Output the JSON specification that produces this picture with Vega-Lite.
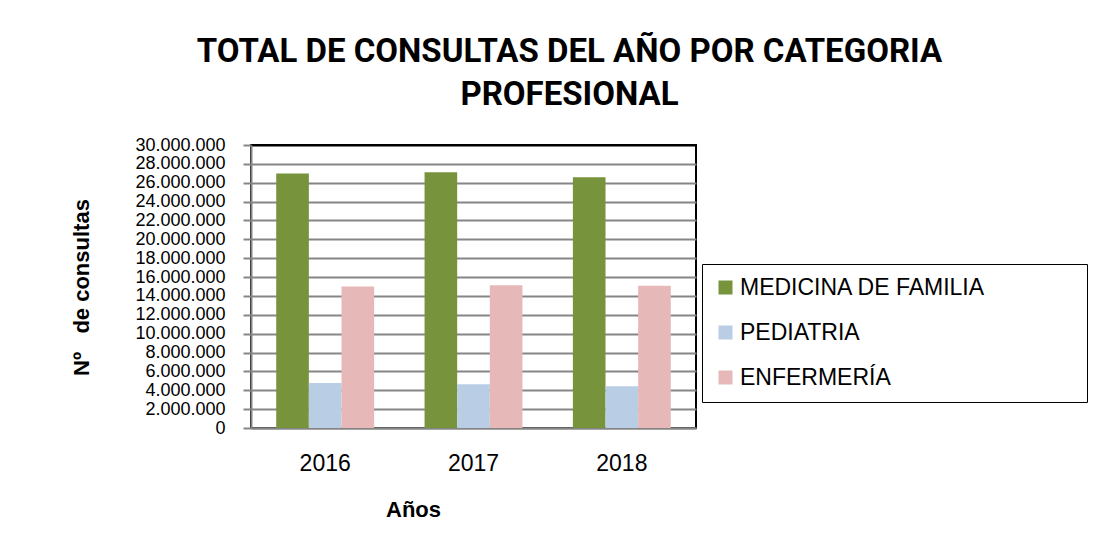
{
  "$schema": "https://vega.github.io/schema/vega-lite/v6.json",
  "width": 445,
  "height": 283,
  "autosize": {"type": "none"},
  "padding": {"left": 251, "top": 145, "right": 401, "bottom": 118},
  "background": "white",
  "title": {
    "text": ["TOTAL DE CONSULTAS DEL AÑO POR CATEGORIA", "PROFESIONAL"],
    "font": "Roboto",
    "fontSize": 33,
    "fontWeight": "bold",
    "lineHeight": 43,
    "color": "black",
    "anchor": "middle",
    "frame": "group",
    "dx": 96,
    "offset": 24
  },
  "data": {
    "values": [
      {"year": "2016", "cat": "MEDICINA DE FAMILIA", "value": 26980000},
      {"year": "2016", "cat": "PEDIATRIA", "value": 4780000},
      {"year": "2016", "cat": "ENFERMERÍA", "value": 14990000},
      {"year": "2017", "cat": "MEDICINA DE FAMILIA", "value": 27100000},
      {"year": "2017", "cat": "PEDIATRIA", "value": 4630000},
      {"year": "2017", "cat": "ENFERMERÍA", "value": 15140000},
      {"year": "2018", "cat": "MEDICINA DE FAMILIA", "value": 26570000},
      {"year": "2018", "cat": "PEDIATRIA", "value": 4420000},
      {"year": "2018", "cat": "ENFERMERÍA", "value": 15070000}
    ]
  },
  "mark": {"type": "bar"},
  "encoding": {
    "x": {
      "field": "year",
      "type": "nominal",
      "scale": {"paddingInner": 0.34, "paddingOuter": 0.17},
      "axis": {
        "title": "Años",
        "titleFont": "Liberation Sans",
        "titleFontSize": 22,
        "titleFontWeight": "bold",
        "titleColor": "black",
        "titleX": 162,
        "titleY": 88,
        "titleBaseline": "alphabetic",
        "titleAlign": "center",
        "labelAngle": 0,
        "labelFont": "Liberation Sans",
        "labelFontSize": 23,
        "labelColor": "black",
        "labelPadding": 24,
        "ticks": false,
        "domainColor": "#868686",
        "domainWidth": 2,
        "grid": false
      }
    },
    "xOffset": {
      "field": "cat",
      "type": "nominal",
      "sort": ["MEDICINA DE FAMILIA", "PEDIATRIA", "ENFERMERÍA"],
      "scale": {"paddingInner": 0, "paddingOuter": 0}
    },
    "y": {
      "field": "value",
      "type": "quantitative",
      "scale": {"domain": [0, 30000000], "nice": false},
      "axis": {
        "title": "Nº\u00a0\u00a0\u00a0de consultas",
        "titleFont": "Liberation Sans",
        "titleFontSize": 22,
        "titleFontWeight": "bold",
        "titleColor": "black",
        "titleX": -163,
        "titleY": 142,
        "titleBaseline": "alphabetic",
        "titleAlign": "center",
        "titleAngle": -90,
        "values": [0, 2000000, 4000000, 6000000, 8000000, 10000000, 12000000, 14000000, 16000000, 18000000, 20000000, 22000000, 24000000, 26000000, 28000000, 30000000],
        "format": ",d",
        "labelFont": "Liberation Sans",
        "labelFontSize": 18,
        "labelColor": "black",
        "labelPadding": 18,
        "labelOverlap": false,
        "labelFlush": false,
        "tickSize": 8,
        "tickColor": "#868686",
        "tickWidth": 2,
        "domainColor": "#868686",
        "domainWidth": 2,
        "grid": true,
        "gridColor": {"condition": {"test": "datum.value == 30000000", "value": "black"}, "value": "#868686"},
        "gridWidth": 2
      }
    },
    "color": {
      "field": "cat",
      "type": "nominal",
      "sort": ["MEDICINA DE FAMILIA", "PEDIATRIA", "ENFERMERÍA"],
      "scale": {"domain": ["MEDICINA DE FAMILIA", "PEDIATRIA", "ENFERMERÍA"], "range": ["#77933C", "#B9CDE5", "#E6B9B8"]},
      "legend": {
        "title": ".",
        "titleOrient": "right",
        "titleColor": "white",
        "titleFontSize": 6,
        "titlePadding": 88,
        "orient": "none",
        "legendX": 451,
        "legendY": 119,
        "symbolType": "square",
        "symbolSize": 196,
        "symbolStrokeWidth": 0,
        "symbolOpacity": 1,
        "labelFont": "Liberation Sans",
        "labelFontSize": 23,
        "labelColor": "black",
        "labelOffset": 3,
        "labelLimit": 0,
        "rowPadding": 21
      }
    }
  },
  "config": {
    "locale": {"number": {"decimal": ",", "thousands": ".", "grouping": [3], "currency": ["", " €"]}},
    "view": {"stroke": "black", "strokeWidth": 2},
    "legend": {"strokeColor": "black", "strokeWidth": 1, "fillColor": "white", "padding": 12}
  }
}
